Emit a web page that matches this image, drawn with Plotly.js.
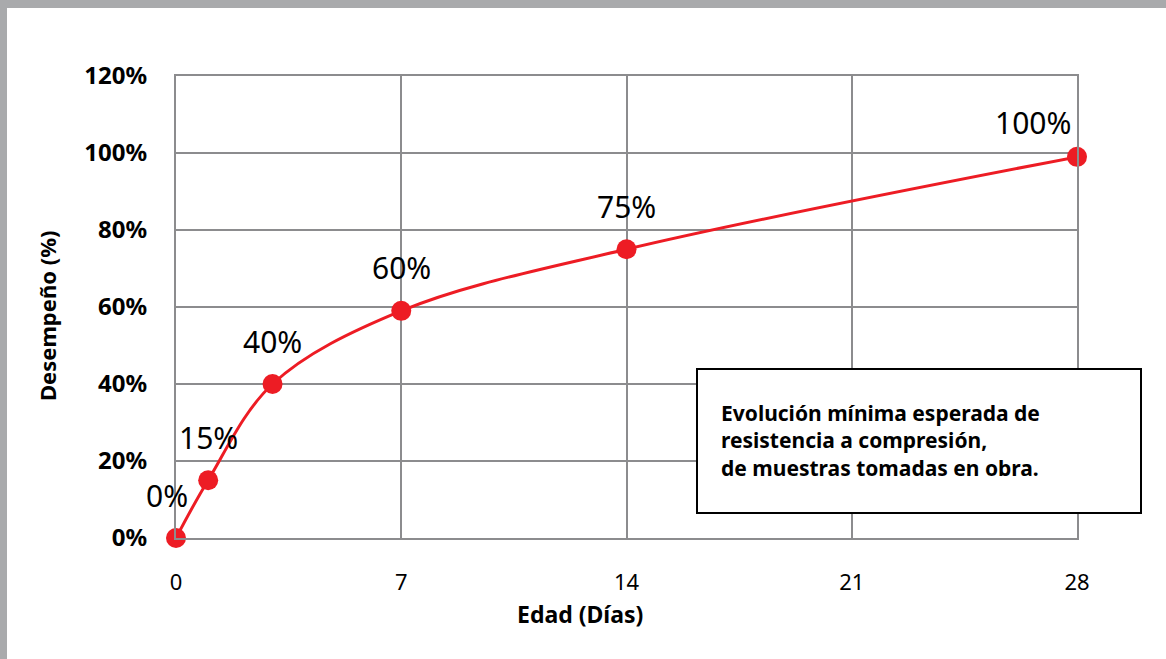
<!DOCTYPE html>
<html>
<head>
<meta charset="utf-8">
<script src="https://cdn.plot.ly/plotly-3.0.1.min.js"></script>
<style>
  html, body { margin: 0; padding: 0; background: #ffffff; }
  #frame { position: absolute; left: 0; top: 0; width: 1166px; height: 659px; background: #a9aaac; }
  #chart { position: absolute; left: 7px; top: 8px; width: 1159px; height: 651px; background: #ffffff; }
</style>
</head>
<body>
<div id="frame"></div>
<div id="chart"></div>
<script>
// Data
const days = [0, 1, 3, 7, 14, 28];
const performance = [0, 15, 40, 59, 75, 99];
const pointLabels = ['0%', '15%', '40%', '60%', '75%', '100%'];
const xTicks = [0, 7, 14, 21, 28];
const yTicks = [0, 20, 40, 60, 80, 100, 120];
const yTickLabels = ['0%', '20%', '40%', '60%', '80%', '100%', '120%'];
const xTitle = 'Edad (Días)';
const yTitle = 'Desempeño (%)';
const noteText = 'Evolución mínima esperada de<br>resistencia a compresión,<br>de muestras tomadas en obra.';

const FONT = '"Noto Sans", "Open Sans", sans-serif';
const GRID = '#8c8c8e';
const RED = '#ed1c24';

const trace = {
  x: days,
  y: performance,
  type: 'scatter',
  mode: 'lines+markers',
  line: { color: RED, width: 3, shape: 'spline', smoothing: 1 },
  marker: { color: RED, size: 20 },
  cliponaxis: false,
  hoverinfo: 'skip'
};

const labelAnnotations = days.map((d, i) => ({
  x: d,
  y: performance[i],
  xref: 'x',
  yref: 'y',
  text: pointLabels[i],
  showarrow: false,
  xanchor: i === days.length - 1 ? 'right' : 'center',
  xshift: i === days.length - 1 ? -4 : (i === 0 ? -9 : 0),
  yanchor: 'middle',
  yshift: i === days.length - 1 ? 34 : 43,
  font: { family: FONT, size: 30, color: '#000000' }
}));

const layout = {
  width: 1159,
  height: 651,
  margin: { l: 169, r: 89, t: 68, b: 121 },
  paper_bgcolor: '#ffffff',
  plot_bgcolor: '#ffffff',
  showlegend: false,
  font: { family: FONT, color: '#000000' },
  xaxis: {
    range: [0, 28],
    tickvals: xTicks,
    ticktext: xTicks.map(String),
    ticks: 'outside',
    ticklen: 24,
    tickcolor: 'rgba(0,0,0,0)',
    tickfont: { family: FONT, size: 22, color: '#000000' },
    showgrid: true,
    gridcolor: GRID,
    gridwidth: 2,
    zeroline: false,
    showline: true,
    linecolor: GRID,
    linewidth: 2,
    mirror: true,
    fixedrange: true
  },
  yaxis: {
    range: [0, 120],
    tickvals: yTicks,
    ticktext: yTickLabels,
    ticks: 'outside',
    ticklen: 22,
    tickcolor: 'rgba(0,0,0,0)',
    tickfont: { family: FONT, size: 24, color: '#000000', weight: 'bold' },
    showgrid: true,
    gridcolor: GRID,
    gridwidth: 2,
    zeroline: false,
    showline: true,
    linecolor: GRID,
    linewidth: 2,
    mirror: true,
    fixedrange: true
  },
  shapes: [{
    type: 'rect',
    xref: 'paper', yref: 'paper',
    x0: (697 - 176) / 901, x1: (1141 - 176) / 901,
    y0: (538 - 513) / 462, y1: (538 - 369) / 462,
    fillcolor: '#ffffff',
    line: { color: '#000000', width: 2 },
    layer: 'above'
  }],
  annotations: labelAnnotations.concat([
    {
      xref: 'paper', yref: 'paper',
      x: (719 - 176) / 901, y: (538 - 440) / 462,
      xanchor: 'left', yanchor: 'middle', align: 'left',
      text: noteText,
      showarrow: false,
      font: { family: FONT, size: 21, color: '#000000', weight: 'bold' }
    },
    {
      xref: 'paper', yref: 'paper',
      x: (580 - 176) / 901, y: (538 - 614) / 462,
      xanchor: 'center', yanchor: 'middle',
      text: xTitle,
      showarrow: false,
      font: { family: FONT, size: 23, color: '#000000', weight: 'bold' }
    },
    {
      xref: 'paper', yref: 'paper',
      x: (47 - 176) / 901, y: (538 - 316) / 462,
      xanchor: 'center', yanchor: 'middle',
      text: yTitle,
      textangle: -90,
      showarrow: false,
      font: { family: FONT, size: 22, color: '#000000', weight: 'bold' }
    }
  ])
};

Plotly.newPlot('chart', [trace], layout, { displayModeBar: false, staticPlot: true });
</script>
</body>
</html>
